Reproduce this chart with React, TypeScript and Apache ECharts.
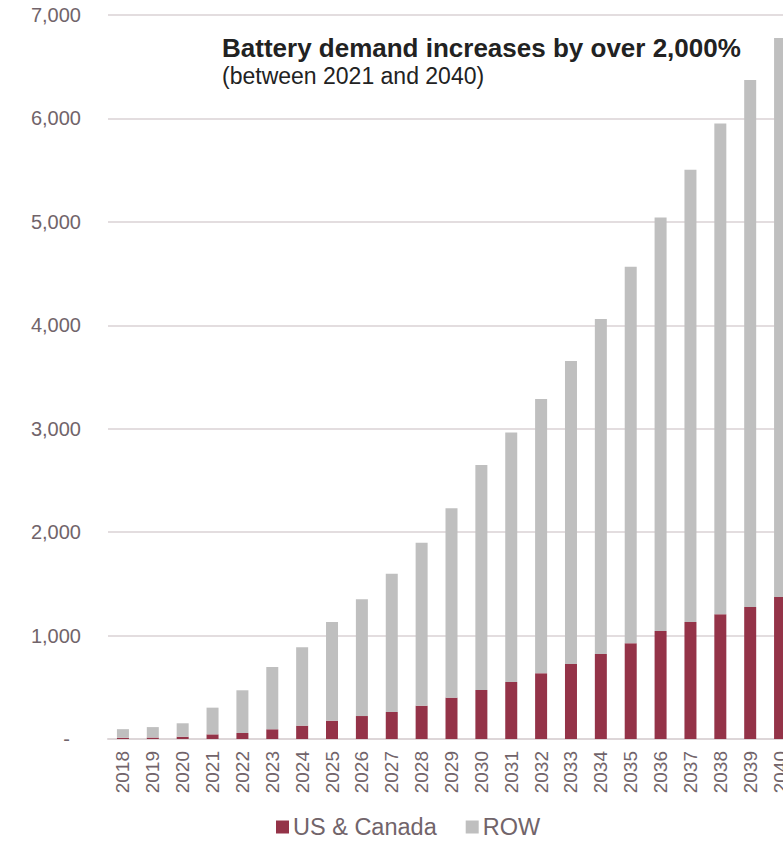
import React, { useEffect, useRef } from "react";
import * as echarts from "echarts";

const years = ["2018","2019","2020","2021","2022","2023","2024","2025","2026","2027","2028","2029","2030","2031","2032","2033","2034","2035","2036","2037","2038","2039","2040"];
const usCanada = [12, 14, 22, 45, 58, 94, 129, 177, 222, 261, 322, 400, 474, 551, 635, 725, 822, 925, 1044, 1131, 1206, 1276, 1373];
const totals = [95, 115, 152, 303, 471, 696, 886, 1131, 1351, 1598, 1898, 2232, 2649, 2963, 3287, 3655, 4061, 4565, 5041, 5505, 5950, 6372, 6778];
const row = totals.map((t, i) => t - usCanada[i]);

const FONT = "Liberation Sans, Arial, sans-serif";
const LABEL = "#71646a";

export default function App() {
  const ref = useRef<HTMLDivElement>(null);
  useEffect(() => {
    const chart = echarts.init(ref.current!, null, { renderer: "svg" });
    chart.setOption({
      animation: false,
      textStyle: { fontFamily: FONT },
      title: {
        text: "Battery demand increases by over 2,000%",
        subtext: "(between 2021 and 2040)",
        left: 222,
        top: 35,
        padding: 0,
        itemGap: 3,
        textStyle: { fontFamily: FONT, fontSize: 26, fontWeight: "bold", color: "#222" },
        subtextStyle: { fontFamily: FONT, fontSize: 23, color: "#222" },
      },
      legend: {
        left: 276,
        top: 815,
        padding: 0,
        itemWidth: 13,
        itemHeight: 13,
        itemGap: 29,
        icon: "rect",
        textStyle: { fontFamily: FONT, fontSize: 23.5, color: LABEL, padding: [0, 0, 0, -1] },
        data: ["US & Canada", "ROW"],
      },
      grid: { left: 108, right: 15, top: 15, bottom: 117, containLabel: false },
      xAxis: {
        type: "category",
        data: years,
        axisLine: { lineStyle: { color: "#ddd6d8", width: 2 } },
        axisTick: { show: false },
        axisLabel: { rotate: 90, fontSize: 19, color: LABEL, fontFamily: FONT, margin: 12, interval: 0 },
      },
      yAxis: {
        type: "value",
        min: 0,
        max: 7000,
        interval: 1000,
        axisLine: { show: false },
        axisTick: { show: false },
        splitLine: { lineStyle: { color: "#e3dddf", width: 2 } },
        axisLabel: {
          fontSize: 20,
          color: LABEL,
          fontFamily: FONT,
          margin: 27,
          formatter: (v: number) => (v === 0 ? "{z|-}" : v.toLocaleString("en-US")),
          rich: { z: { fontSize: 20, color: LABEL, fontFamily: FONT, padding: [0, 11, 0, 0] } },
        },
      },
      series: [
        {
          name: "US & Canada",
          type: "bar",
          stack: "total",
          barWidth: 12,
          data: usCanada,
          itemStyle: { color: "#943348" },
        },
        {
          name: "ROW",
          type: "bar",
          stack: "total",
          barWidth: 12,
          data: row,
          itemStyle: { color: "#bfbfbf" },
        },
      ],
    });
    return () => chart.dispose();
  }, []);
  return (
    <div style={{ position: "fixed", left: 0, top: 0, width: 783, height: 856, overflow: "hidden", background: "#fff" }}>
      <div ref={ref} style={{ width: 810, height: 856 }} />
    </div>
  );
}
